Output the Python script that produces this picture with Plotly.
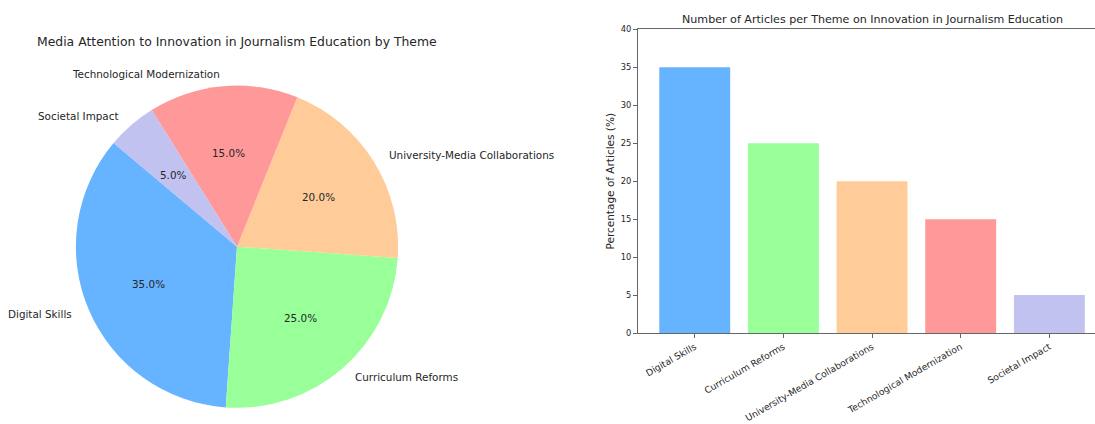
import math
import plotly.graph_objects as go

themes = ["Digital Skills", "Curriculum Reforms", "University-Media Collaborations",
          "Technological Modernization", "Societal Impact"]
shares = [35, 25, 20, 15, 5]
colors = ["#66b3ff", "#99ff99", "#ffcc99", "#ff9999", "#c2c2f0"]
y_ticks = [0, 5, 10, 15, 20, 25, 30, 35, 40]

W, H = 1095, 424
FONT = "DejaVu Sans"
TXT = "#262626"

# pie geometry (pixels)
cx, cy, R = 237, 247.5, 161
DOM = 165  # plotly draws the pie slightly inside its domain
start_angle = 140
total = sum(shares)
first_end = start_angle + 360 * shares[0] / total

fig = go.Figure()

fig.add_trace(go.Pie(
    labels=themes, values=shares, sort=False, direction="counterclockwise",
    rotation=90 - first_end,
    marker=dict(colors=colors, line=dict(width=0)),
    textinfo="none", hoverinfo="label+percent", showlegend=False,
    domain=dict(x=[(cx - DOM) / W, (cx + DOM) / W], y=[1 - (cy + DOM) / H, 1 - (cy - DOM) / H]),
))

# labels and percentages placed like matplotlib's pie (labeldistance 1.1, pctdistance 0.6)
cum = 0
annotations = []
for name, v in zip(themes, shares):
    mid = math.radians(start_angle + 360 * (cum + v / 2) / total)
    cum += v
    c, s = math.cos(mid), math.sin(mid)
    px, py = cx + 0.6 * R * c, cy - 0.6 * R * s
    annotations.append(dict(x=px / W, y=1 - py / H, xref="paper", yref="paper",
                            text=f"{100 * v / total:.1f}%", showarrow=False,
                            xanchor="center", yanchor="middle",
                            font=dict(family=FONT, size=10.4, color=TXT)))
    lx, ly = cx + 1.1 * R * c, cy - 1.1 * R * s
    annotations.append(dict(x=lx / W, y=1 - ly / H, xref="paper", yref="paper",
                            text=name, showarrow=False,
                            xanchor="right" if c < 0 else "left", yanchor="middle",
                            font=dict(family=FONT, size=10.4, color=TXT)))

annotations.append(dict(x=cx / W, y=1 - 37 / H, xref="paper", yref="paper",
                        text="Media Attention to Innovation in Journalism Education by Theme",
                        showarrow=False, xanchor="center", yanchor="middle",
                        font=dict(family=FONT, size=12.4, color=TXT)))
annotations.append(dict(x=872 / W, y=1 - 15 / H, xref="paper", yref="paper",
                        text="Number of Articles per Theme on Innovation in Journalism Education",
                        showarrow=False, xanchor="center", yanchor="middle",
                        font=dict(family=FONT, size=11.1, color=TXT)))

fig.add_trace(go.Bar(
    x=list(range(len(themes))), y=shares, marker=dict(color=colors, line=dict(width=0)),
    width=0.8, showlegend=False, xaxis="x", yaxis="y",
))

fig.update_layout(
    width=W, height=H,
    margin=dict(l=0, r=0, t=0, b=0),
    paper_bgcolor="white", plot_bgcolor="white",
    font=dict(family=FONT, color=TXT),
    annotations=annotations,
    bargap=0.2,
    xaxis=dict(
        domain=[638 / W, 1.0], range=[-0.64, 4.515],
        tickmode="array", tickvals=list(range(len(themes))), ticktext=themes,
        tickangle=-30, ticks="outside", ticklen=4, tickcolor="#666",
        showline=True, linecolor="#666", linewidth=1, mirror=True,
        showgrid=False, zeroline=False, tickfont=dict(size=9.2, family=FONT),
    ),
    yaxis=dict(
        domain=[1 - 336 / H, 1 - 25 / H], range=[0, 40],
        tickmode="array", tickvals=y_ticks,
        ticks="outside", ticklen=4, tickcolor="#666",
        showline=True, linecolor="#666", linewidth=1,
        showgrid=False, zeroline=False, tickfont=dict(size=8.3, family=FONT),
        title=dict(text="Percentage of Articles (%)", font=dict(size=10.5, family=FONT), standoff=4),
    ),
)

fig.write_html("out.html")
